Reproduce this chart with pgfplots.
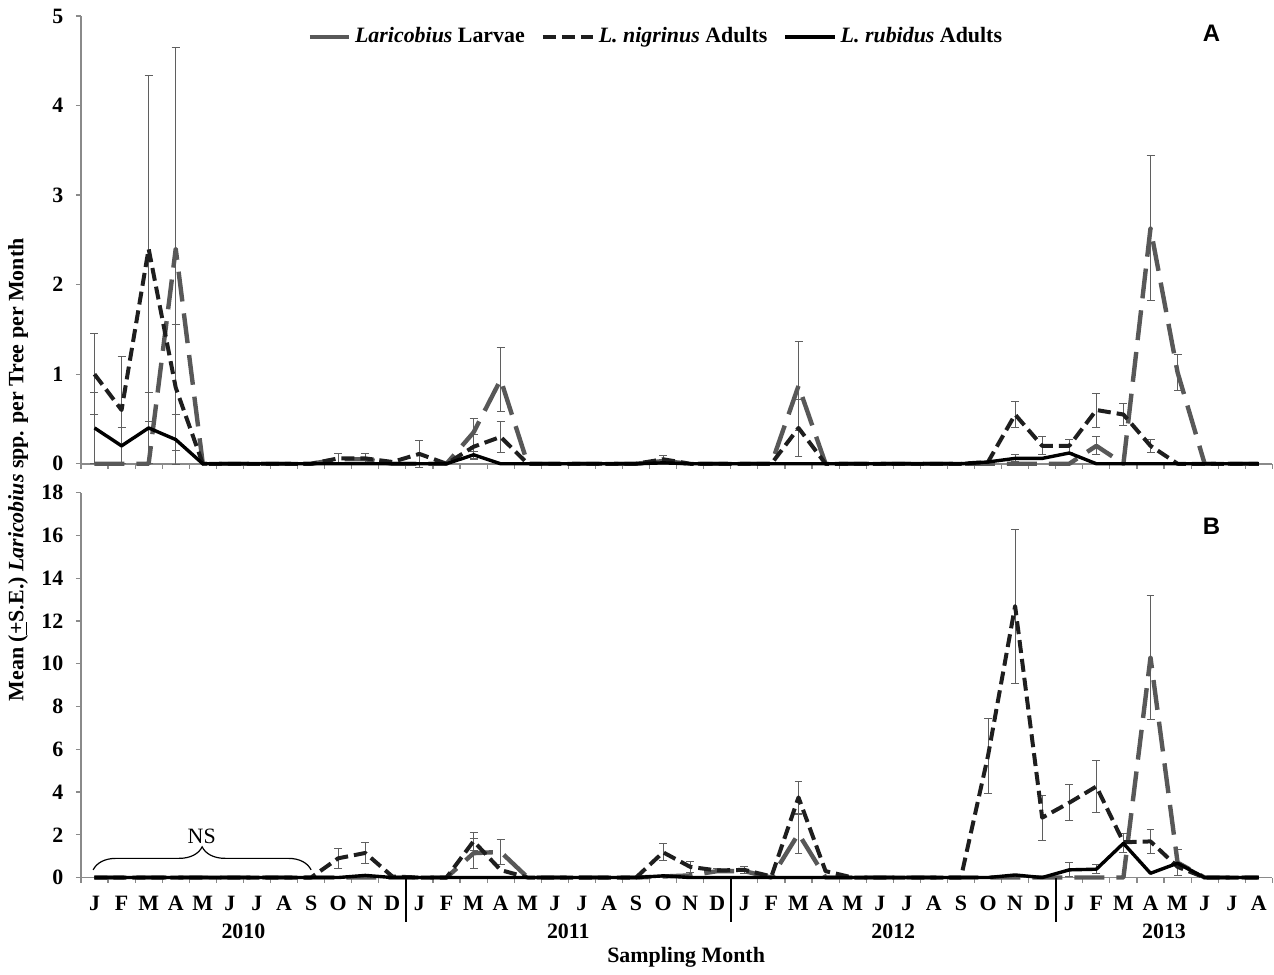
\documentclass[border=0pt]{standalone}
\usepackage{fontspec}
\setmainfont{Liberation Serif}
\newfontfamily\arialfont{Liberation Sans}
\usepackage{pgfplots}
\pgfplotsset{compat=1.18}
\usepackage{pgfplotstable}
\usetikzlibrary{decorations.pathreplacing,calc}

\definecolor{larvgray}{RGB}{88,88,88}
\definecolor{niggray}{RGB}{30,30,30}
\definecolor{errgray}{RGB}{95,95,95}
\definecolor{axisgray}{RGB}{138,138,138}

\pgfplotstableread{
i L N R
0 0 1.0 0.4
1 0 0.6 0.2
2 0 2.4 0.4
3 2.4 0.85 0.27
4 0 0 0
5 0 0 0
6 0 0 0
7 0 0 0
8 0 0 0
9 0.05 0.06 0
10 0.05 0.06 0
11 0 0.02 0
12 0 0.11 0
13 0 0 0
14 0.35 0.19 0.1
15 0.94 0.3 0
16 0 0 0
17 0 0 0
18 0 0 0
19 0 0 0
20 0 0 0
21 0.03 0.05 0.01
22 0 0 0
23 0 0 0
24 0 0 0
25 0 0 0
26 0.87 0.4 0
27 0 0 0
28 0 0 0
29 0 0 0
30 0 0 0
31 0 0 0
32 0 0 0
33 0 0.02 0.02
34 0 0.55 0.06
35 0 0.2 0.06
36 0 0.2 0.12
37 0.2 0.6 0
38 0 0.55 0
39 2.63 0.2 0
40 1.02 0 0
41 0 0 0
42 0 0 0
43 0 0 0
}\tabA

\pgfplotstableread{
i L N R
0 0 0 0
1 0 0 0
2 0 0 0
3 0 0 0
4 0 0 0
5 0 0 0
6 0 0 0
7 0 0 0
8 0 0 0
9 0 0.9 0
10 0 1.15 0.1
11 0 0.05 0
12 0 0 0
13 0 0 0
14 1.14 1.7 0
15 1.2 0.35 0
16 0 0 0
17 0 0 0
18 0 0 0
19 0 0 0
20 0 0 0
21 0.05 1.18 0.08
22 0.1 0.5 0
23 0.3 0.33 0
24 0.3 0.36 0
25 0 0.05 0
26 2.05 3.75 0
27 0 0.3 0
28 0 0 0
29 0 0 0
30 0 0 0
31 0 0 0
32 0 0 0
33 0 5.7 0
34 0 12.7 0.12
35 0 2.8 0
36 0 3.5 0.36
37 0 4.26 0.39
38 0 1.65 1.6
39 10.3 1.69 0.2
40 0.7 0.5 0.67
41 0 0 0
42 0 0 0
43 0 0 0
}\tabB

\pgfplotsset{
  mystyle/.style={
    scale only axis, width=596bp, xmin=-0.5, xmax=43.5, ymin=0,
    axis x line*=bottom, axis y line*=left,
    axis line style={draw=axisgray, line width=0.8bp},
    tick align=outside, major tick length=2.5bp, minor tick length=2.5bp,
    tick style={draw=axisgray, line width=0.6bp},
    xtick={0,...,43}, minor xtick={-0.5,0.5,...,43.5},
    major x tick style={draw=none},
    tick label style={font=\bfseries},
    yticklabel style={xshift=-2.5bp},
    /pgf/number format/assume math mode=true,
    clip=false,
  },
  larv/.style={color=larvgray, line width=2.2bp, dash pattern=on 15bp off 6bp, line join=round,
    legend image code/.code={\draw[##1, solid] (0bp,0bp) -- (19.5bp,0bp);}},
  nig/.style={color=niggray, line width=2bp, dash pattern=on 6.5bp off 3bp, line join=round,
    legend image code/.code={\draw[##1] (0bp,0bp) -- (25bp,0bp);}},
  rub/.style={color=black, line width=1.7bp, line join=round,
    legend image code/.code={\draw[##1] (0bp,0bp) -- (25bp,0bp);}},
  errb/.style={forget plot, draw=none, mark=none,
    error bars/.cd, y dir=both, y explicit,
    error bar style={draw=errgray, line width=0.5bp, solid},
    error mark options={rotate=90, mark size=2bp, draw=errgray, line width=0.5bp, solid}},
}

\begin{document}
\fontsize{11}{13}\selectfont
\begin{tikzpicture}
\begin{axis}[mystyle, name=A, height=224bp, ymax=5, ytick={0,...,5}, xmajorticks=false,
  legend style={draw=none, fill=none, at={(0.19,0.953)}, anchor=west, inner sep=0pt,
    legend columns=3, font=\bfseries,
    /tikz/every even column/.append style={column sep=6bp}},
  legend cell align=left,
]
\addplot[errb] coordinates {(3,2.4) +- (0,2.25) (14,0.35) +- (0,0.16) (15,0.94) +- (0,0.36) (26,0.87) +- (0,0.5) (37,0.2) +- (0,0.1) (39,2.63) +- (0,0.81) (40,1.02) +- (0,0.2)};
\addplot[errb] coordinates {(0,1.0) +- (0,0.45) (1,0.6) +- (0,0.6) (2,2.4) +- (0,1.93) (3,0.85) +- (0,0.7) (9,0.06) +- (0,0.06) (10,0.06) +- (0,0.06) (12,0.11) +- (0,0.15) (14,0.19) +- (0,0.14) (15,0.3) +- (0,0.17) (21,0.05) +- (0,0.04) (26,0.4) +- (0,0.32) (34,0.55) +- (0,0.15) (35,0.2) +- (0,0.1) (36,0.2) +- (0,0.07) (37,0.6) +- (0,0.19) (38,0.55) +- (0,0.12) (39,0.2) +- (0,0.07)};
\addplot[errb] coordinates {(0,0.4) +- (0,0.4) (1,0.2) +- (0,0.2) (2,0.4) +- (0,0.4) (3,0.27) +- (0,0.28) (14,0.1) +- (0,0.04) (34,0.06) +- (0,0.04)};
\addplot[larv] table[x=i,y=L] {\tabA};
\addlegendentry{\textit{Laricobius} Larvae}
\addplot[nig] table[x=i,y=N] {\tabA};
\addlegendentry{\textit{L. nigrinus} Adults}
\addplot[rub] table[x=i,y=R] {\tabA};
\addlegendentry{\textit{L. rubidus} Adults}
\node[font={\fontsize{12}{14}\arialfont\bfseries}] at (axis cs:41.25,4.81) {A};
\end{axis}

\begin{axis}[mystyle, name=B, at={($(A.south west)+(0,-14.5bp)$)}, anchor=north west,
  height=192.5bp, ymax=18, ytick={0,2,...,18},
  xticklabels={J,F,M,A,M,J,J,A,S,O,N,D,J,F,M,A,M,J,J,A,S,O,N,D,J,F,M,A,M,J,J,A,S,O,N,D,J,F,M,A,M,J,J,A},
  xticklabel style={yshift=-3bp},
]
\addplot[errb] coordinates {(14,1.14) +- (0,0.7) (15,1.2) +- (0,0.58) (26,2.05) +- (0,0.92) (39,10.3) +- (0,2.9) (40,0.7) +- (0,0.6)};
\addplot[errb] coordinates {(9,0.9) +- (0,0.47) (10,1.15) +- (0,0.5) (14,1.7) +- (0,0.43) (21,1.18) +- (0,0.4) (22,0.5) +- (0,0.25) (23,0.33) +- (0,0.1) (24,0.36) +- (0,0.15) (26,3.75) +- (0,0.75) (33,5.7) +- (0,1.76) (34,12.7) +- (0,3.6) (35,2.8) +- (0,1.05) (36,3.5) +- (0,0.85) (37,4.26) +- (0,1.2) (39,1.69) +- (0,0.55)};
\addplot[errb] coordinates {(36,0.36) +- (0,0.33) (37,0.39) +- (0,0.2) (38,1.6) +- (0,0.45)};
\addplot[larv] table[x=i,y=L] {\tabB};
\addplot[nig] table[x=i,y=N] {\tabB};
\addplot[rub] table[x=i,y=R] {\tabB};
\node[font={\fontsize{12}{14}\arialfont\bfseries}] at (axis cs:41.25,16.44) {B};
\draw[decorate, decoration={brace, amplitude=11.5bp}, line width=0.6bp, black] (axis cs:-0.05,0.36) -- (axis cs:8.0,0.36);
\node at (axis cs:3.96,1.95) {NS};
\draw[line width=0.8bp, black] (axis cs:11.5,0) -- ([yshift=-22bp]axis cs:11.5,0);
\draw[line width=0.8bp, black] (axis cs:23.5,0) -- ([yshift=-22bp]axis cs:23.5,0);
\draw[line width=0.8bp, black] (axis cs:35.5,0) -- ([yshift=-22bp]axis cs:35.5,0);
\node[font=\bfseries] at ([yshift=-27bp]axis cs:5.5,0) {2010};
\node[font=\bfseries] at ([yshift=-27bp]axis cs:17.5,0) {2011};
\node[font=\bfseries] at ([yshift=-27bp]axis cs:29.5,0) {2012};
\node[font=\bfseries] at ([yshift=-27bp]axis cs:39.5,0) {2013};
\node[font=\bfseries] at ([yshift=-40bp]axis cs:21.85,0) {Sampling Month};
\end{axis}

\node[rotate=90, font=\bfseries] at ([xshift=-31.5bp,yshift=-3bp]A.south west) {Mean (\underline{+}S.E.) \textit{Laricobius} spp. per Tree per Month};
\path ([xshift=-40.5bp,yshift=232bp]A.south west) rectangle ([xshift=596.5bp,yshift=-253.5bp]A.south west);
\end{tikzpicture}
\end{document}
